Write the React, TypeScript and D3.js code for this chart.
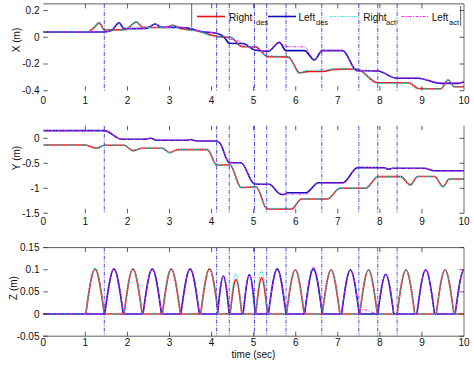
import React from 'react';
import * as d3 from 'd3';

type P = [number, number];
type Step = [number, number, number, number]; // start, peak time, end, height

const xTicks = [0, 1, 2, 3, 4, 5, 6, 7, 8, 9, 10];
const xTickLabels = ['0', '1', '2', '3', '4', '5', '6', '7', '8', '9', '10'];
const yTicksX = [-0.4, -0.2, 0, 0.2];
const yTickLabelsX = ['-0.4', '-0.2', '0', '0.2'];
const yTicksY = [-1.5, -1, -0.5, 0];
const yTickLabelsY = ['-1.5', '-1', '-0.5', '0'];
const yTicksZ = [-0.05, 0, 0.05, 0.1, 0.15];
const yTickLabelsZ = ['-0.05', '0', '0.05', '0.1', '0.15'];
const eventTimes = [1.45, 4.12, 4.42, 5.02, 5.31, 5.77, 6.62, 7.5, 7.95, 8.41];
const legendNames = ['Right', 'Left', 'Right', 'Left'];
const legendSubs = ['des', 'des', 'act', 'act'];
const axisTitles = ['X (m)', 'Y (m)', 'Z (m)'];
const xTitle = 'time (sec)';

// X (m)
const xRightDes: P[] = [[0, 0.04], [1.05, 0.04], [1.2, 0.07], [1.33, 0.108], [1.45, 0.055], [1.95, 0.057], [2.21, 0.115], [2.36, 0.075], [2.9, 0.073], [3.08, 0.09], [3.26, 0.065], [3.7, 0.045], [3.95, 0.02], [4.16, 0.005], [4.45, 0.0], [4.72, -0.07], [5.05, -0.072], [5.33, -0.145], [5.82, -0.147], [6.1, -0.268], [6.25, -0.257], [6.65, -0.256], [6.9, -0.24], [7.45, -0.238], [7.94, -0.34], [8.7, -0.342], [8.9, -0.383], [9.45, -0.385], [9.62, -0.32], [9.77, -0.37], [10, -0.37]];
const xRightAct: P[] = [[0, 0.04], [1.05, 0.04], [1.2, 0.072], [1.33, 0.11], [1.45, 0.053], [1.95, 0.056], [2.21, 0.117], [2.36, 0.074], [2.9, 0.072], [3.08, 0.088], [3.26, 0.062], [3.7, 0.045], [3.95, 0.015], [4.12, 0.004], [4.45, 0.0], [4.72, -0.066], [5.05, -0.07], [5.33, -0.14], [5.82, -0.143], [6.08, -0.272], [6.25, -0.248], [6.65, -0.245], [6.9, -0.238], [7.45, -0.236], [7.94, -0.345], [8.7, -0.345], [8.9, -0.386], [9.45, -0.386], [9.62, -0.318], [9.77, -0.372], [10, -0.372]];
const xLeftDes: P[] = [[0, 0.04], [1.45, 0.04], [1.62, 0.05], [1.8, 0.108], [1.92, 0.065], [2.45, 0.067], [2.66, 0.1], [2.8, 0.075], [3.27, 0.073], [3.5, 0.065], [3.71, 0.045], [4.12, 0.03], [4.3, 0.0], [4.42, -0.045], [4.75, -0.047], [5.02, -0.095], [5.35, -0.105], [5.61, -0.038], [5.77, -0.1], [6.21, -0.1], [6.44, -0.17], [6.63, -0.1], [7.12, -0.1], [7.45, -0.25], [7.95, -0.252], [8.4, -0.307], [8.9, -0.307], [9.45, -0.345], [9.85, -0.345], [10, -0.335]];
const xLeftAct: P[] = [[0, 0.04], [1.45, 0.04], [1.62, 0.05], [1.8, 0.106], [1.92, 0.066], [2.45, 0.068], [2.66, 0.1], [2.8, 0.076], [3.27, 0.074], [3.5, 0.066], [3.71, 0.046], [4.12, 0.032], [4.3, 0.005], [4.42, -0.012], [4.65, -0.03], [4.8, -0.06], [5.02, -0.09], [5.35, -0.1], [5.61, -0.04], [5.77, -0.07], [6.21, -0.072], [6.44, -0.165], [6.63, -0.098], [7.12, -0.098], [7.45, -0.248], [7.95, -0.25], [8.4, -0.305], [8.9, -0.305], [9.45, -0.343], [9.85, -0.343], [10, -0.333]];

// Y (m)
const yRightDes: P[] = [[0, -0.134], [1.0, -0.134], [1.27, -0.2], [1.45, -0.14], [1.92, -0.14], [2.13, -0.247], [2.35, -0.2], [2.83, -0.2], [3.0, -0.287], [3.2, -0.227], [3.9, -0.227], [4.12, -0.533], [4.44, -0.535], [4.7, -0.985], [5.06, -0.97], [5.32, -1.414], [5.9, -1.414], [6.14, -1.215], [6.75, -1.215], [7.05, -1.0], [7.66, -1.0], [7.96, -0.767], [8.5, -0.767], [8.72, -0.933], [8.9, -0.765], [9.3, -0.765], [9.5, -0.967], [9.65, -0.815], [10, -0.815]];
const yRightAct: P[] = [[0, -0.134], [1.0, -0.134], [1.27, -0.205], [1.45, -0.138], [1.92, -0.14], [2.13, -0.25], [2.35, -0.2], [2.83, -0.2], [3.0, -0.29], [3.2, -0.225], [3.9, -0.225], [4.12, -0.54], [4.44, -0.54], [4.7, -0.98], [5.06, -0.968], [5.32, -1.4], [5.9, -1.4], [6.14, -1.212], [6.75, -1.212], [7.05, -0.998], [7.66, -0.998], [7.96, -0.765], [8.5, -0.765], [8.72, -0.94], [8.9, -0.763], [9.3, -0.763], [9.5, -0.97], [9.65, -0.812], [10, -0.812]];
const yLeftDes: P[] = [[0, 0.153], [1.45, 0.153], [1.86, -0.02], [2.4, -0.02], [2.55, 0.0], [2.7, -0.04], [3.4, -0.04], [3.5, -0.025], [3.64, -0.053], [4.12, -0.055], [4.2, -0.1], [4.42, -0.487], [4.7, -0.49], [5.02, -0.915], [5.37, -0.92], [5.64, -1.12], [5.72, -1.125], [5.82, -1.09], [6.24, -1.09], [6.54, -0.89], [7.12, -0.89], [7.47, -0.587], [8.1, -0.59], [8.2, -0.62], [8.3, -0.6], [9.05, -0.6], [9.3, -0.65], [10, -0.65]];
const yLeftAct: P[] = [[0, 0.153], [1.45, 0.153], [1.86, -0.02], [2.4, -0.02], [2.55, 0.0], [2.7, -0.04], [3.4, -0.04], [3.5, -0.025], [3.64, -0.053], [4.12, -0.055], [4.2, -0.1], [4.42, -0.49], [4.7, -0.49], [5.02, -0.915], [5.37, -0.92], [5.64, -1.11], [5.72, -1.12], [5.82, -1.115], [6.24, -1.115], [6.54, -0.895], [7.12, -0.895], [7.47, -0.59], [8.1, -0.592], [8.2, -0.62], [8.3, -0.602], [9.05, -0.602], [9.3, -0.652], [10, -0.652]];

// Z (m): swing steps [start, peak time, end, height]
const zRightDes: Step[] = [[1.01, 1.23, 1.45, 0.102], [1.92, 2.13, 2.35, 0.102], [2.83, 3.04, 3.26, 0.102], [3.74, 3.95, 4.16, 0.102], [4.44, 4.58, 4.72, 0.078], [5.05, 5.19, 5.33, 0.082], [5.78, 5.99, 6.2, 0.1], [6.63, 6.84, 7.05, 0.1], [7.52, 7.73, 7.94, 0.1], [8.41, 8.62, 8.83, 0.1], [9.34, 9.55, 9.76, 0.1]];
const zRightAct: Step[] = [[1.01, 1.23, 1.45, 0.103], [1.92, 2.13, 2.35, 0.102], [2.83, 3.04, 3.26, 0.102], [3.74, 3.95, 4.16, 0.102], [4.44, 4.57, 4.72, 0.091], [5.05, 5.19, 5.33, 0.098], [5.78, 5.99, 6.2, 0.1], [6.63, 6.84, 7.05, 0.1], [7.52, 7.73, 7.94, 0.1], [8.41, 8.62, 8.83, 0.1], [9.34, 9.55, 9.76, 0.1]];
const zLeftDes: Step[] = [[1.46, 1.68, 1.9, 0.102], [2.37, 2.59, 2.81, 0.102], [3.27, 3.49, 3.71, 0.102], [4.14, 4.28, 4.42, 0.086], [4.75, 4.9, 5.04, 0.089], [5.35, 5.56, 5.77, 0.102], [6.21, 6.42, 6.63, 0.102], [7.09, 7.3, 7.51, 0.1], [7.95, 8.14, 8.33, 0.09], [8.88, 9.09, 9.3, 0.1], [9.79, 10.0, 10.21, 0.1]];
const zLeftAct: Step[] = [[1.46, 1.68, 1.9, 0.102], [2.37, 2.59, 2.81, 0.102], [3.27, 3.49, 3.71, 0.102], [4.14, 4.28, 4.42, 0.086], [4.75, 4.9, 5.04, 0.089], [5.35, 5.56, 5.77, 0.1], [6.21, 6.42, 6.63, 0.107], [7.09, 7.3, 7.51, 0.1], [7.52, 7.6, 7.9, 0.01], [7.95, 8.14, 8.33, 0.09], [8.88, 9.09, 9.3, 0.1], [9.79, 10.0, 10.21, 0.1]];

const FONT = "'Liberation Sans', Arial, Helvetica, sans-serif";
const styles = [
  { color: '#e81010', width: 1.6, dash: undefined as string | undefined },
  { color: '#1010b8', width: 1.6, dash: undefined as string | undefined },
  { color: '#20e0e0', width: 1.2, dash: '1.2,1.2' },
  { color: '#f020f0', width: 1.0, dash: '3,1.5,1,1.5' },
];

const x = d3.scaleLinear().domain([0, 10]).range([43.3, 464]);
const panels = [
  { y: d3.scaleLinear().domain([-0.4, 0.25]).range([90.7, 3.9]), ticks: yTicksX, labels: yTickLabelsX, xLabelY: 103.5, title: axisTitles[0], titleX: 16, titleY: 40, border: { top: true, bottom: false, right: true } },
  { y: d3.scaleLinear().domain([-1.5, 0.25]).range([213.3, 125.8]), ticks: yTicksY, labels: yTickLabelsY, xLabelY: 224.5, title: axisTitles[1], titleX: 16, titleY: 158, border: { top: false, bottom: false, right: true } },
  { y: d3.scaleLinear().domain([-0.05, 0.15]).range([336.2, 247.6]), ticks: yTicksZ, labels: yTickLabelsZ, xLabelY: 346, title: axisTitles[2], titleX: 13, titleY: 288, border: { top: true, bottom: true, right: true } },
];

function smoothPath(pts: P[], y: d3.ScaleLinear<number, number>) {
  return d3.line<P>().x(d => x(d[0])).y(d => y(d[1])).curve(d3.curveMonotoneX)(pts) || '';
}

function stepPath(steps: Step[], y: d3.ScaleLinear<number, number>) {
  const flat = d3.line<P>().x(d => x(d[0])).y(d => y(d[1]));
  const bump = d3.line<P>().x(d => x(d[0])).y(d => y(d[1])).curve(d3.curveMonotoneX);
  let d = '';
  let prev = -0.2;
  for (const [s, p, e, h] of steps) {
    d += flat([[prev, 0], [s, 0]]) || '';
    d += bump([[s, 0], [p, h], [e, 0]]) || '';
    prev = e;
  }
  d += flat([[prev, 0], [10.3, 0]]) || '';
  return d;
}

export default function App() {
  const series = [
    [xRightDes, xLeftDes, xRightAct, xLeftAct],
    [yRightDes, yLeftDes, yRightAct, yLeftAct],
  ];
  const zSeries = [zRightDes, zLeftDes, zRightAct, zLeftAct];
  const legendX = [197, 268, 330, 401.5];
  const legendTextX = [229, 298.5, 363.3, 431.7];
  const legendSubX = [256, 316, 386, 449];

  return (
    <svg width={474} height={370} style={{ position: 'absolute', left: 0, top: 0, background: '#fff' }} fontFamily={FONT}>
      <defs>
        {panels.map((p, i) => (
          <clipPath id={`clip${i}`} key={i}>
            <rect x={x(0)} y={p.y.range()[1]} width={x(10) - x(0)} height={p.y.range()[0] - p.y.range()[1]} />
          </clipPath>
        ))}
      </defs>
      {panels.map((p, i) => {
        const [yb, yt] = p.y.range();
        const x0 = x(0), x1 = x(10);
        return (
          <g key={i}>
            <g clipPath={`url(#clip${i})`} fill="none">
              {i < 2
                ? series[i].map((s, k) => (
                    <path key={k} d={smoothPath(s, p.y)} stroke={styles[k].color} strokeWidth={styles[k].width} strokeDasharray={styles[k].dash} />
                  ))
                : zSeries.map((s, k) => (
                    <path key={k} d={stepPath(s, p.y)} stroke={styles[k].color} strokeWidth={styles[k].width} strokeDasharray={styles[k].dash} />
                  ))}
            </g>
            {eventTimes.map((t, k) => (
              <line key={k} x1={x(t)} x2={x(t)} y1={yt} y2={yb} stroke="#3a3ad8" strokeWidth={0.9} strokeDasharray="4,1.5,1,1.5" />
            ))}
            {p.border.top && <line x1={x0} x2={x1} y1={yt} y2={yt} stroke="#333" strokeWidth={0.8} />}
            {p.border.bottom && <line x1={x0} x2={x1} y1={yb} y2={yb} stroke="#333" strokeWidth={0.8} />}
            {p.border.right && <line x1={x1} x2={x1} y1={yt} y2={yb} stroke="#444" strokeWidth={0.8} />}
            {xTicks.map((t, k) => (
              <g key={k}>
                {t > 0 && t < 10 && <line x1={x(t)} x2={x(t)} y1={yb} y2={yb - 4.5} stroke="#333" strokeWidth={0.8} />}
                {t > 0 && t < 10 && <line x1={x(t)} x2={x(t)} y1={yt} y2={yt + 4.5} stroke="#333" strokeWidth={0.8} />}
                <text x={x(t)} y={p.xLabelY} fontSize={10} textAnchor="middle" fill="#111">{xTickLabels[k]}</text>
              </g>
            ))}
            {p.ticks.map((v, k) => (
              <g key={k}>
                <line x1={x0} x2={x0 + 4.5} y1={p.y(v)} y2={p.y(v)} stroke="#333" strokeWidth={0.8} />
                <line x1={x1} x2={x1 - 4.5} y1={p.y(v)} y2={p.y(v)} stroke="#333" strokeWidth={0.8} />
                <text x={39.5} y={p.y(v)} dy="0.35em" fontSize={10} textAnchor="end" fill="#111">{p.labels[k]}</text>
              </g>
            ))}
            <text transform={`translate(${p.titleX},${p.titleY}) rotate(-90)`} fontSize={10} textAnchor="middle" dy="0.35em" fill="#111">{p.title}</text>
          </g>
        );
      })}
      {/* legend */}
      <g>
        <line x1={191.7} x2={191.7} y1={4} y2={27} stroke="#333" strokeWidth={0.8} />
        <line x1={460.7} x2={460.7} y1={6} y2={26} stroke="#333" strokeWidth={0.8} />
        {legendNames.map((n, k) => (
          <g key={k}>
            <line x1={legendX[k]} x2={legendX[k] + 28} y1={16.5} y2={16.5} stroke={styles[k].color} strokeWidth={styles[k].width} strokeDasharray={styles[k].dash} />
            <text x={legendTextX[k]} y={20.5} fontSize={10} fill="#111">{n}</text>
            <text x={legendSubX[k]} y={24.5} fontSize={7.5} fill="#111">{legendSubs[k]}</text>
          </g>
        ))}
      </g>
      <text x={253.5} y={358} fontSize={10} textAnchor="middle" fill="#111">{xTitle}</text>
    </svg>
  );
}
